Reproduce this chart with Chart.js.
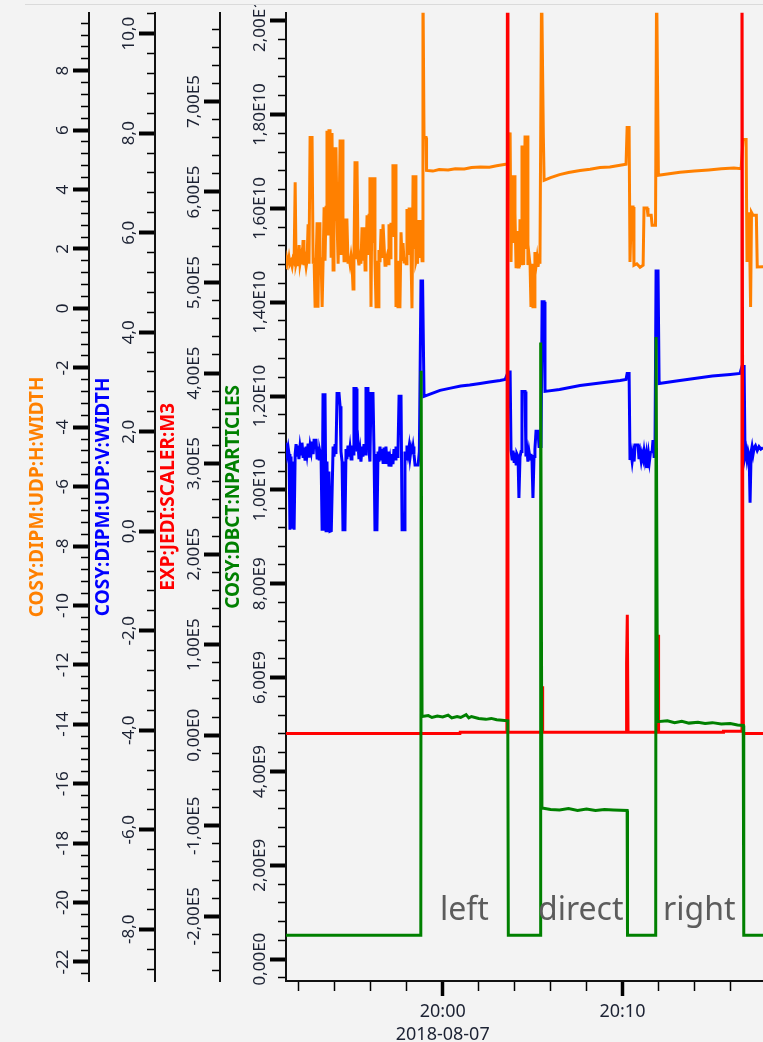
<!DOCTYPE html>
<html>
<head>
<meta charset="utf-8">
<title>COSY beam monitor 2018-08-07</title>
<script src="https://cdn.jsdelivr.net/npm/chart.js@4.4.1/dist/chart.umd.min.js"></script>
<style>
    html, body { margin: 0; padding: 0; background: #f3f3f3; }
    body { width: 763px; height: 1042px; position: relative; overflow: hidden; }
    #frame { position: absolute; left: 25px; right: 0; top: 4px; height: 1px; background: #dadada; }
    #chart { position: absolute; left: 0; top: 5px; }
</style>
</head>
<body>
<div id="frame"></div>
<canvas id="chart" width="763" height="1037"></canvas>
<script>
/* time axis: minutes relative to 20:00 */
const day = '2018-08-07';

// COSY:DIPM:UDP:H:WIDTH
const hTime = [
    -9.00, -8.70, -8.66, -8.61, -8.55, -8.50, -8.44, -8.38, -8.33, -8.27,
    -8.21, -8.16, -8.10, -8.05, -7.99, -7.94, -7.88, -7.83, -7.77, -7.72,
    -7.66, -7.60, -7.55, -7.49, -7.44, -7.38, -7.27, -7.21, -7.16, -7.10,
    -7.05, -6.99, -6.94, -6.88, -6.83, -6.77, -6.71, -6.66, -6.60, -6.55,
    -6.49, -6.44, -6.38, -6.33, -6.27, -6.21, -6.16, -6.10, -6.05, -5.99,
    -5.94, -5.88, -5.82, -5.77, -5.71, -5.66, -5.60, -5.55, -5.49, -5.44,
    -5.33, -5.27, -5.22, -5.16, -5.10, -5.05, -4.99, -4.94, -4.88, -4.82,
    -4.77, -4.71, -4.66, -4.60, -4.55, -4.49, -4.44, -4.38, -4.32, -4.27,
    -4.21, -4.16, -4.10, -4.05, -3.99, -3.93, -3.88, -3.82, -3.77, -3.71,
    -3.66, -3.60, -3.55, -3.49, -3.43, -3.38, -3.32, -3.27, -3.21, -3.16,
    -3.10, -3.04, -2.99, -2.93, -2.88, -2.82, -2.77, -2.71, -2.65, -2.60,
    -2.54, -2.49, -2.38, -2.32, -2.26, -2.21, -2.15, -2.10, -2.04, -1.99,
    -1.93, -1.87, -1.82, -1.76, -1.71, -1.65, -1.60, -1.54, -1.49, -1.43,
    -1.40, -1.37, -1.32, -1.26, -1.21, -1.15, -1.10, -1.04, -0.93, -0.90,
    -0.55, -0.20, 0.30, 0.70, 1.20, 1.60, 2.10, 2.60, 3.00, 3.50,
    3.62, 3.75, 3.80, 3.86, 3.91, 3.97, 4.02, 4.08, 4.13, 4.16,
    4.19, 4.24, 4.27, 4.30, 4.36, 4.41, 4.47, 4.49, 4.52, 4.58,
    4.64, 4.70, 4.74, 4.80, 4.86, 4.91, 4.97, 5.02, 5.08, 5.13,
    5.20, 5.25, 5.30, 5.36, 5.41, 5.50, 5.60, 5.64, 6.00, 6.50,
    7.00, 7.64, 8.20, 8.75, 9.30, 9.87, 10.20, 10.26, 10.37, 10.42,
    10.50, 10.59, 10.64, 10.80, 10.98, 11.15, 11.20, 11.37, 11.42, 11.60,
    11.65, 11.84, 11.90, 12.00, 12.50, 13.20, 14.00, 14.80, 15.50, 16.20,
    16.60, 16.71, 16.88, 16.93, 17.05, 17.13, 17.18, 17.27, 17.45, 17.50,
    18.00,
];
const hWidth = [
    1.50, 1.38, 1.62, 1.45, 1.70, 1.50, 1.58, 1.42, 1.65, 1.56,
    4.24, 1.50, 1.66, 1.42, 2.13, 1.50, 1.72, 1.48, 2.30, 1.45,
    1.68, 1.40, 1.60, 2.83, 1.50, 5.75, 5.75, 1.50, 1.70, 0.02,
    1.40, 2.90, 0.02, 2.90, 1.50, 1.72, 0.05, 1.45, 3.40, 1.60,
    3.40, 5.98, 2.50, 5.98, 5.98, 1.70, 5.90, 1.29, 5.42, 3.00,
    5.42, 2.97, 1.50, 2.97, 5.68, 1.80, 5.68, 2.97, 1.60, 2.97,
    2.97, 1.55, 1.75, 1.50, 1.78, 1.55, 0.65, 1.60, 4.95, 1.70,
    4.95, 1.70, 1.45, 1.70, 1.50, 2.73, 1.60, 2.73, 1.29, 1.65,
    3.13, 1.80, 3.13, 4.41, 0.05, 4.41, 2.20, 4.41, 1.60, 0.05,
    1.60, 0.05, 1.96, 1.55, 2.67, 1.70, 2.83, 2.83, 1.45, 1.60,
    1.75, 1.50, 2.83, 1.70, 2.83, 2.83, 4.85, 2.40, 4.85, 0.05,
    1.60, 0.05, 0.05, 2.56, 1.60, 2.20, 1.56, 1.72, 1.50, 3.34,
    1.80, 3.34, 3.34, 1.60, 0.00, 4.48, 2.00, 4.48, 1.56, 1.70,
    1.50, 2.97, 1.70, 2.97, 2.97, 1.60, 11.0, 5.75, 5.75, 4.64,
    4.62, 4.67, 4.66, 4.70, 4.69, 4.74, 4.76, 4.75, 4.80, 4.85,
    4.85, 5.92, 1.56, 4.48, 2.20, 4.48, 3.20, 1.40, 2.60, 1.70,
    1.39, 2.40, 1.39, 3.00, 1.50, 5.48, 2.50, 5.48, 1.46, 5.82,
    2.00, 5.82, 1.46, 1.80, 1.46, 0.05, 1.50, 0.05, 0.05, 1.90,
    1.46, 1.70, 1.40, 1.65, 1.50, 11.0, 5.75, 4.31, 4.40, 4.50,
    4.57, 4.64, 4.68, 4.74, 4.76, 4.82, 4.85, 6.09, 6.09, 1.56,
    3.41, 3.41, 1.45, 1.50, 1.38, 1.45, 3.38, 3.38, 3.13, 3.13,
    2.80, 2.80, 11.0, 4.48, 4.52, 4.58, 4.62, 4.66, 4.70, 4.72,
    4.70, 5.68, 5.68, 1.56, 3.23, 0.05, 3.23, 3.13, 3.13, 1.39,
    1.40,
];

// COSY:DIPM:UDP:V:WIDTH
const vTime = [
    -9.00, -8.72, -8.66, -8.60, -8.55, -8.50, -8.44, -8.38, -8.33, -8.27,
    -8.21, -8.16, -8.10, -8.05, -8.00, -7.94, -7.88, -7.83, -7.77, -7.72,
    -7.66, -7.60, -7.55, -7.49, -7.44, -7.38, -7.32, -7.27, -7.21, -7.16,
    -7.05, -6.99, -6.94, -6.88, -6.83, -6.77, -6.71, -6.66, -6.60, -6.55,
    -6.49, -6.44, -6.38, -6.33, -6.27, -6.20, -6.10, -6.05, -5.99, -5.94,
    -5.88, -5.77, -5.71, -5.66, -5.60, -5.55, -5.44, -5.38, -5.33, -5.27,
    -5.22, -5.16, -5.10, -5.05, -4.99, -4.94, -4.82, -4.77, -4.71, -4.66,
    -4.60, -4.55, -4.49, -4.44, -4.38, -4.32, -4.27, -4.16, -4.10, -4.05,
    -3.99, -3.88, -3.82, -3.77, -3.66, -3.60, -3.55, -3.49, -3.43, -3.38,
    -3.32, -3.27, -3.21, -3.16, -3.10, -3.04, -2.99, -2.93, -2.88, -2.82,
    -2.77, -2.71, -2.65, -2.60, -2.54, -2.49, -2.43, -2.32, -2.26, -2.15,
    -2.10, -2.04, -1.99, -1.93, -1.87, -1.82, -1.76, -1.71, -1.65, -1.60,
    -1.54, -1.37, -1.30, -1.21, -1.12, -1.04, -0.15, 0.50, 1.00, 1.50,
    2.08, 2.60, 3.19, 3.47, 3.64, 3.75, 3.80, 3.86, 3.91, 3.97,
    4.02, 4.08, 4.13, 4.19, 4.24, 4.30, 4.36, 4.41, 4.58, 4.63,
    4.69, 4.74, 4.80, 4.86, 4.91, 4.97, 5.02, 5.08, 5.13, 5.19,
    5.30, 5.36, 5.47, 5.53, 5.64, 5.69, 6.50, 7.64, 8.75, 9.87,
    10.20, 10.26, 10.37, 10.42, 10.48, 10.54, 10.59, 10.65, 10.70, 10.87,
    10.92, 10.98, 11.04, 11.09, 11.15, 11.20, 11.26, 11.32, 11.37, 11.45,
    11.50, 11.56, 11.65, 11.70, 11.76, 11.81, 11.87, 11.98, 12.04, 13.00,
    14.00, 15.00, 16.00, 16.54, 16.65, 16.77, 16.82, 16.88, 16.93, 16.99,
    17.05, 17.10, 17.16, 17.21, 17.27, 17.33, 17.40, 17.50, 17.60, 17.70,
    17.82, 18.00,
];
const vWidth = [
    1.60, 1.72, 1.55, 1.68, 1.55, 0.03, 1.50, 0.05, 1.40, 0.03,
    1.55, 1.75, 1.50, 1.72, 1.45, 1.70, 1.55, 1.78, 1.50, 1.68,
    1.42, 1.70, 1.55, 1.76, 1.48, 1.72, 1.60, 1.80, 1.55, 1.83,
    1.83, 1.47, 1.70, 1.45, 1.60, 1.50, 0.01, 2.77, 0.01, 2.77,
    0.01, 1.40, 0.01, 1.20, 0.00, 0.01, 1.70, 1.50, 1.75, 1.55,
    2.77, 2.77, 2.51, 1.60, 1.40, 0.03, 0.03, 1.65, 1.45, 1.72,
    1.50, 1.68, 1.45, 1.72, 1.55, 2.87, 2.87, 1.60, 1.75, 1.45,
    1.62, 1.40, 1.70, 1.50, 1.75, 1.55, 2.87, 2.87, 1.60, 1.40,
    2.77, 2.77, 1.55, 0.03, 0.03, 1.60, 1.40, 1.70, 1.45, 1.65,
    1.38, 1.68, 1.45, 1.70, 1.35, 1.60, 1.30, 1.45, 1.30, 1.55,
    1.35, 1.65, 1.45, 1.70, 1.50, 1.60, 2.71, 2.71, 0.03, 0.03,
    1.60, 1.45, 1.72, 1.55, 1.70, 1.48, 1.65, 1.55, 1.70, 1.55,
    1.33, 1.33, 1.60, 5.03, 5.03, 2.71, 2.83, 2.88, 2.92, 2.94,
    2.97, 3.00, 3.03, 3.05, 3.20, 3.20, 1.63, 1.45, 1.62, 1.40,
    1.58, 1.35, 1.55, 1.50, 0.67, 1.50, 1.60, 2.81, 2.81, 1.50,
    1.62, 1.40, 1.60, 1.45, 1.55, 1.40, 0.67, 1.50, 1.65, 2.01,
    2.01, 1.70, 1.70, 4.61, 4.61, 2.81, 2.85, 2.93, 2.98, 3.03,
    3.05, 3.17, 3.17, 1.43, 1.58, 1.40, 1.55, 1.40, 1.73, 1.73,
    1.45, 1.58, 1.42, 1.55, 1.45, 1.60, 1.42, 1.55, 1.27, 1.55,
    1.40, 1.58, 1.60, 1.83, 1.50, 1.60, 5.23, 5.23, 2.97, 3.02,
    3.07, 3.12, 3.15, 3.17, 3.31, 3.31, 1.51, 1.62, 1.45, 1.60,
    1.50, 0.57, 1.60, 1.70, 1.55, 1.68, 1.72, 1.62, 1.70, 1.65,
    1.68, 1.65,
];

// EXP:JEDI:SCALER:M3
const m3Time = [
    -9.00, 0.96, 0.97, 3.57, 3.60, 3.63, 5.50, 5.53, 5.56, 10.20,
    10.23, 10.27, 10.31, 11.96, 11.98, 12.01, 15.60, 15.62, 16.62, 16.65,
    16.70, 16.73, 18.00,
];
const m3Counts = [
    2000, 2000, 3200, 3200, 900000, 3200, 3200, 54000, 3200, 3200,
    80000, 133000, 3200, 3200, 111000, 3200, 3200, 4500, 4500, 900000,
    151000, 2000, 2000,
];

// COSY:DBCT:NPARTICLES
const npTime = [
    -9.00, -1.22, -1.20, -1.15, -0.80, -0.60, -0.30, 0.00, 0.30, 0.50,
    0.80, 1.00, 1.30, 1.45, 1.60, 2.00, 2.40, 2.70, 3.00, 3.30,
    3.62, 3.65, 5.43, 5.45, 5.52, 6.00, 6.50, 7.00, 7.50, 8.00,
    8.50, 9.00, 9.50, 10.26, 10.28, 11.85, 11.87, 11.95, 12.50, 12.90,
    13.30, 13.70, 14.20, 14.60, 15.00, 15.50, 16.00, 16.40, 16.72, 16.75,
    18.00,
];
const npCount = [
    0.51e9, 0.51e9, 12.54e9, 5.17e9, 5.19e9, 5.15e9, 5.18e9, 5.16e9, 5.20e9, 5.14e9,
    5.17e9, 5.15e9, 5.21e9, 5.14e9, 5.17e9, 5.13e9, 5.11e9, 5.13e9, 5.10e9, 5.09e9,
    5.08e9, 0.51e9, 0.51e9, 13.14e9, 3.22e9, 3.19e9, 3.18e9, 3.21e9, 3.17e9, 3.20e9,
    3.17e9, 3.19e9, 3.18e9, 3.17e9, 0.51e9, 0.51e9, 13.26e9, 5.06e9, 5.08e9, 5.04e9,
    5.07e9, 5.03e9, 5.05e9, 5.02e9, 5.04e9, 5.01e9, 5.02e9, 4.99e9, 4.98e9, 0.51e9,
    0.51e9,
];

// annotations under the beam steps
const notes = ['left', 'direct', 'right'];
const noteTime = [-0.15, 5.30, 12.26];
const noteLevel = 0.83e9;

const FAMILY = '"Noto Sans", "DejaVu Sans", sans-serif';
const TICK_SIZE = 17;
const TITLE_SIZE = 19;

Chart.defaults.font.family = FAMILY;

function pairs(xs, ys) {
    return xs.map((x, i) => ({ x, y: ys[i] }));
}

function isMajor(v, major) {
    const q = v / major;
    return Math.abs(q - Math.round(q)) < 1e-6;
}

function sci(v) {
    if (Math.abs(v) < 1e-9) return '0,00E0';
    const e = Math.floor(Math.log10(Math.abs(v)) + 1e-9);
    const m = v / Math.pow(10, e);
    return m.toFixed(2).replace('.', ',') + 'E' + e;
}

function hhmm(t) {
    const mins = 20 * 60 + t;
    const h = Math.floor(mins / 60);
    const m = mins - h * 60;
    return String(h).padStart(2, '0') + ':' + String(m).padStart(2, '0');
}

// every multiple of step inside [min, max]
function stepTicks(min, max, step) {
    const out = [];
    const first = Math.ceil(min / step - 1e-9);
    const last = Math.floor(max / step + 1e-9);
    for (let k = first; k <= last; k++) {
        out.push({ value: Math.round(k * step * 1e6) / 1e6 });
    }
    return out;
}

// label padding so the rotated tick text centres 26px left of the axis line
const measureCtx = document.createElement('canvas').getContext('2d');
function labelPadding(min, max, major, fmt) {
    measureCtx.font = 'normal ' + TICK_SIZE + 'px ' + FAMILY;
    let widest = 0;
    stepTicks(min, max, major).forEach(t => {
        widest = Math.max(widest, measureCtx.measureText(fmt(t.value)).width);
    });
    return 26 - 16 - widest / 2;
}

function yAxis(cfg) {
    return {
        type: 'linear',
        position: 'left',
        weight: cfg.weight,
        min: cfg.min,
        max: cfg.max,
        border: { display: true, color: '#111', width: 2 },
        grid: {
            display: true,
            drawOnChartArea: false,
            drawTicks: true,
            tickLength: 16,
            tickColor: '#000',
            tickWidth: c => isMajor(c.tick.value, cfg.major) ? 4 : 1.5,
            tickBorderDash: c => isMajor(c.tick.value, cfg.major) ? [] : [0, 8, 8, 100],
        },
        ticks: {
            autoSkip: false,
            minRotation: 90,
            maxRotation: 90,
            crossAlign: 'center',
            padding: labelPadding(cfg.min, cfg.max, cfg.major, cfg.fmt),
            color: '#1c2233',
            font: { size: TICK_SIZE },
            callback: v => isMajor(v, cfg.major) ? cfg.fmt(v) : '',
        },
        title: {
            display: true,
            text: cfg.title,
            color: cfg.color,
            font: { size: TITLE_SIZE, weight: 'bold', lineHeight: 1 },
            padding: { top: cfg.titleGap, bottom: 0 },
        },
        afterBuildTicks: s => { s.ticks = stepTicks(cfg.min, cfg.max, cfg.step); },
        afterFit: s => { s.width = cfg.width; },
    };
}

const notesPlugin = {
    id: 'notes',
    afterDatasetsDraw(chart) {
        const { ctx, scales } = chart;
        ctx.save();
        ctx.font = '32px ' + FAMILY;
        ctx.fillStyle = '#5c5c5c';
        ctx.textAlign = 'left';
        ctx.textBaseline = 'alphabetic';
        notes.forEach((text, i) => {
            ctx.fillText(text, scales.x.getPixelForValue(noteTime[i]), scales.yN.getPixelForValue(noteLevel));
        });
        ctx.restore();
    },
};

function series(label, xs, ys, color, axis, order) {
    return {
        label,
        data: pairs(xs, ys),
        yAxisID: axis,
        borderColor: color,
        backgroundColor: color,
        borderWidth: 3,
        pointRadius: 0,
        tension: 0,
        fill: false,
        order,
        clip: 0,
    };
}

new Chart(document.getElementById('chart'), {
    type: 'line',
    data: {
        datasets: [
            series('COSY:DIPM:UDP:H:WIDTH', hTime, hWidth, '#ff8000', 'yH', 4),
            series('COSY:DIPM:UDP:V:WIDTH', vTime, vWidth, '#0000ff', 'yV', 3),
            series('EXP:JEDI:SCALER:M3', m3Time, m3Counts, '#ff0000', 'yM', 2),
            series('COSY:DBCT:NPARTICLES', npTime, npCount, '#008000', 'yN', 1),
        ],
    },
    options: {
        responsive: false,
        animation: false,
        devicePixelRatio: 1,
        layout: { padding: { top: 2, left: 0, right: 0, bottom: 0 }, autoPadding: false },
        plugins: {
            legend: { display: false },
            tooltip: { enabled: false },
        },
        scales: {
            x: {
                type: 'linear',
                position: 'bottom',
                min: -8.72,
                max: 17.82,
                border: { display: true, color: '#111', width: 2 },
                grid: {
                    display: true,
                    drawOnChartArea: false,
                    tickLength: 15,
                    tickColor: '#000',
                    tickWidth: c => c.tick.value % 10 === 0 ? 3.5 : 1.5,
                    tickBorderDash: c => c.tick.value % 10 === 0 ? [] : [9, 100],
                },
                ticks: {
                    autoSkip: false,
                    minRotation: 0,
                    maxRotation: 0,
                    padding: 4.5,
                    color: '#1c2233',
                    font: { size: 18, lineHeight: '23px' },
                    callback: v => {
                        if (v % 10 !== 0) return '';
                        return v === 0 ? [hhmm(v), day] : hhmm(v);
                    },
                },
                afterBuildTicks: s => { s.ticks = stepTicks(-8.72, 17.82, 2); },
                afterFit: s => { s.height = 61; },
            },
            yH: yAxis({
                weight: 4, width: 89, titleGap: 28, min: -22.64, max: 9.95, step: 0.4, major: 2,
                title: 'COSY:DIPM:UDP:H:WIDTH', color: '#ff8000', fmt: v => String(v),
            }),
            yV: yAxis({
                weight: 3, width: 66, titleGap: 5.5, min: -9.04, max: 10.42, step: 0.4, major: 2,
                title: 'COSY:DIPM:UDP:V:WIDTH', color: '#0000ff', fmt: v => v.toFixed(1).replace('.', ','),
            }),
            yM: yAxis({
                weight: 2, width: 65, titleGap: 4.5, min: -2.715e5, max: 7.98e5, step: 2e4, major: 1e5,
                title: 'EXP:JEDI:SCALER:M3', color: '#ff0000', fmt: sci,
            }),
            yN: yAxis({
                weight: 1, width: 66, titleGap: 4.5, min: -0.466e9, max: 2.0169e10, step: 4e8, major: 2e9,
                title: 'COSY:DBCT:NPARTICLES', color: '#008000', fmt: sci,
            }),
        },
    },
    plugins: [notesPlugin],
});
</script>
</body>
</html>
